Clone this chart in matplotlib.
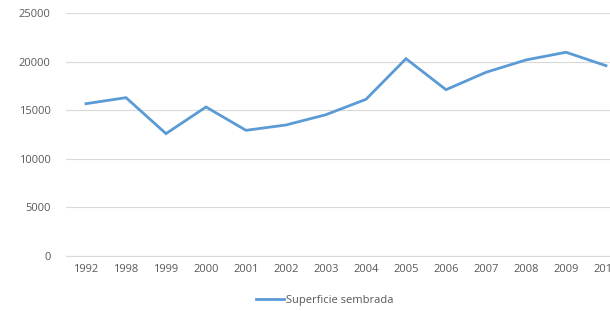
import matplotlib.pyplot as plt

years = ["1992", "1998", "1999", "2000", "2001", "2002", "2003",
         "2004", "2005", "2006", "2007", "2008", "2009", "2010"]
superficie = [15670, 16290, 12590, 15330, 12930, 13480, 14540,
              16120, 20300, 17110, 18900, 20170, 20960, 19580]

plt.rcParams['font.family'] = ['Open Sans', 'DejaVu Sans']

fig = plt.figure(figsize=(6.10, 3.11), dpi=100)
ax = fig.add_axes([66 / 610, 55 / 311, 560 / 610, 243 / 311])

x = range(len(years))
line, = ax.plot(x, superficie, color="#5B9BD5", linewidth=2.0,
                solid_joinstyle="miter", label="Superficie sembrada")

ax.set_xlim(-0.5, len(years) - 0.5)
ax.set_ylim(0, 25000)
ax.set_yticks(range(0, 25001, 5000))
ax.set_xticks(list(x))
ax.set_xticklabels(years)

ax.grid(axis="y", color="#D9D9D9", linewidth=0.8)
ax.set_axisbelow(True)
for s in ["top", "right", "left"]:
    ax.spines[s].set_visible(False)
ax.spines["bottom"].set_color("#D9D9D9")
ax.tick_params(axis="both", length=0, labelsize=8, labelcolor="#595959", pad=6)
ax.tick_params(axis="y", pad=11)

fig.legend(handles=[line], loc="center", bbox_to_anchor=(325 / 610, 1 - 300 / 311),
           frameon=False, fontsize=8, labelcolor="#595959",
           handlelength=2.5, handletextpad=0.2)

fig.savefig("out.png", dpi=100)
